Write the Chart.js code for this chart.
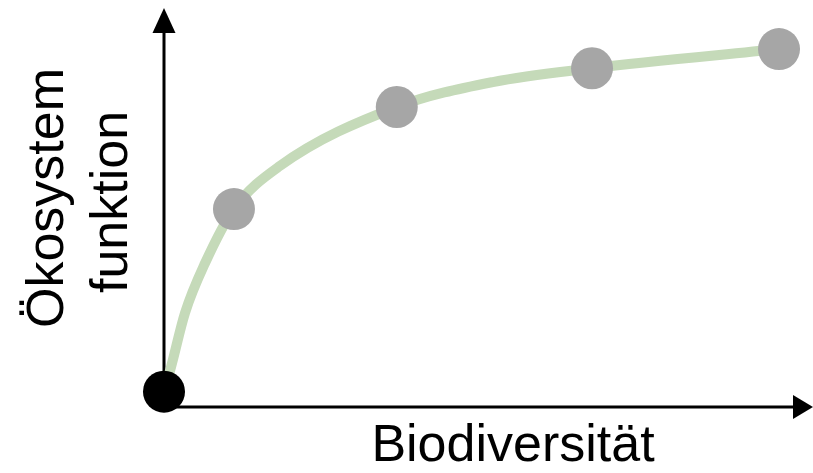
<!DOCTYPE html>
<html>
<head>
<meta charset="utf-8">
<script src="https://cdn.jsdelivr.net/npm/chart.js@4/dist/chart.umd.min.js"></script>
<style>
  html, body { margin: 0; padding: 0; background: #fff; }
  canvas { display: block; }
</style>
</head>
<body>
<canvas id="chart" width="813" height="473"></canvas>
<script>
// measured points (biodiversity vs. ecosystem function, arbitrary units)
const pointX = [0, 11.0, 36.6, 67.3, 96.7];
const pointY = [0, 47.6, 74.2, 84.3, 89.3];
const pointColors = ['#000000', '#a6a6a6', '#a6a6a6', '#a6a6a6', '#a6a6a6'];

// the green trend line, read along its path
const curveX = [0, 1.1, 3.3, 6.45, 11.0, 18.2, 36.6, 51.7, 67.3, 96.7];
const curveY = [0, 6.4, 20.5, 33.5, 47.6, 58.8, 74.2, 80.7, 84.3, 89.3];

const xLabel = 'Biodiversität';
const yLabel = ['Ökosystem', 'funktion'];

const toXY = (xs, ys) => xs.map((x, i) => ({ x: x, y: ys[i] }));

const axesPlugin = {
  id: 'axesPlugin',
  beforeDatasetsDraw(chart) {
    const ctx = chart.ctx;
    const area = chart.chartArea;
    const x0 = area.left;
    const yBase = area.bottom;
    ctx.save();
    ctx.strokeStyle = '#000';
    ctx.fillStyle = '#000';
    ctx.lineWidth = 3;
    // y axis
    ctx.beginPath();
    ctx.moveTo(x0, yBase);
    ctx.lineTo(x0, area.top + 20);
    ctx.stroke();
    ctx.beginPath();
    ctx.moveTo(x0, area.top);
    ctx.lineTo(x0 - 11.5, area.top + 25);
    ctx.lineTo(x0 + 11.5, area.top + 25);
    ctx.closePath();
    ctx.fill();
    // x axis
    ctx.beginPath();
    ctx.moveTo(x0, yBase);
    ctx.lineTo(area.right, yBase);
    ctx.stroke();
    ctx.beginPath();
    ctx.moveTo(813, yBase);
    ctx.lineTo(793, yBase - 12);
    ctx.lineTo(793, yBase + 12);
    ctx.closePath();
    ctx.fill();
    ctx.restore();
  },
  afterDraw(chart) {
    const ctx = chart.ctx;
    ctx.save();
    ctx.fillStyle = '#000';
    ctx.font = '52px "Liberation Sans", Arial, sans-serif';
    ctx.textAlign = 'center';
    ctx.textBaseline = 'alphabetic';
    ctx.fillText(xLabel, 513, 461);
    ctx.translate(63, 198);
    ctx.rotate(-Math.PI / 2);
    ctx.fillText(yLabel[0], 0, 0);
    ctx.fillText(yLabel[1], -4, 64);
    ctx.restore();
  }
};

new Chart(document.getElementById('chart'), {
  type: 'scatter',
  data: {
    datasets: [
      {
        label: 'points',
        data: toXY(pointX, pointY),
        pointRadius: 21,
        pointHoverRadius: 21,
        pointBackgroundColor: pointColors,
        pointBorderWidth: 0,
        showLine: false,
        clip: false,
        order: 0
      },
      {
        label: 'curve',
        data: toXY(curveX, curveY),
        showLine: true,
        borderColor: '#c5dab9',
        borderWidth: 10,
        pointRadius: 0,
        cubicInterpolationMode: 'monotone',
        clip: false,
        order: 1
      }
    ]
  },
  options: {
    responsive: false,
    animation: false,
    layout: { autoPadding: false, padding: { left: 164, right: 13, top: 8, bottom: 66 } },
    plugins: { legend: { display: false }, tooltip: { enabled: false } },
    scales: {
      x: { type: 'linear', min: 0, max: 100, display: false },
      y: { type: 'linear', min: -4, max: 100, display: false }
    }
  },
  plugins: [axesPlugin]
});
</script>
</body>
</html>
